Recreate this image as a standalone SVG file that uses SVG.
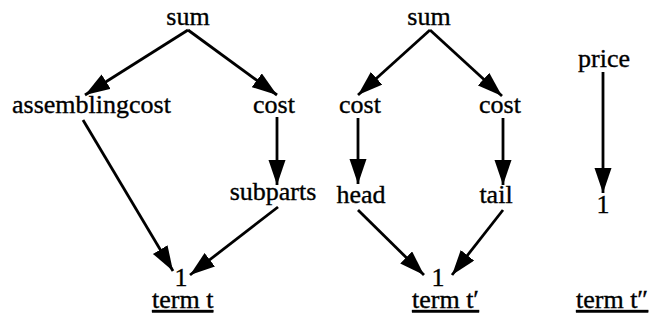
<svg xmlns="http://www.w3.org/2000/svg" width="656" height="320" viewBox="0 0 656 320">
<style>
text{font-family:"Liberation Serif","Times New Roman",serif;font-size:26px;fill:#000;stroke:#000;stroke-width:0.35}
.c{text-anchor:middle}
.u{text-decoration:underline}
.e line{stroke:#000;stroke-width:2.8;marker-end:url(#ah)}
</style>
<defs>
<marker id="ah" markerUnits="userSpaceOnUse" markerWidth="28" markerHeight="18" refX="25" refY="8.5" orient="auto">
<path d="M0,0 L25,8.5 L0,17 z" fill="#000"/>
</marker>
</defs>
<rect width="656" height="320" fill="#fff"/>
<g class="e" id="connectors">
<line x1="188" y1="30" x2="85" y2="95"/>
<line x1="188" y1="30" x2="277" y2="95"/>
<line x1="277" y1="117" x2="277" y2="185"/>
<line x1="83" y1="120" x2="173" y2="271"/>
<line x1="278" y1="207" x2="190" y2="275"/>
<line x1="430" y1="30" x2="358" y2="95"/>
<line x1="430" y1="30" x2="502" y2="96"/>
<line x1="358" y1="118" x2="358" y2="184"/>
<line x1="503" y1="118" x2="503" y2="185"/>
<line x1="358" y1="210" x2="424" y2="275"/>
<line x1="503" y1="210" x2="452" y2="275"/>
<line x1="603" y1="72" x2="603" y2="193"/>
</g>
<g id="t1-sum"><text class="c" x="188" y="25">sum</text></g>
<g id="t1-assemblingcost"><text x="12" y="113">assemblingcost</text></g>
<g id="t1-cost"><text class="c" x="274" y="113">cost</text></g>
<g id="t1-subparts"><text class="c" x="273" y="200">subparts</text></g>
<g id="t1-one"><text class="c" x="181" y="286">1</text></g>
<g id="t1-label"><text class="u" x="152" y="308">term t</text></g>
<g id="t2-sum"><text class="c" x="429" y="25">sum</text></g>
<g id="t2-cost1"><text class="c" x="360" y="113">cost</text></g>
<g id="t2-cost2"><text class="c" x="500" y="113">cost</text></g>
<g id="t2-head"><text class="c" x="361" y="203">head</text></g>
<g id="t2-tail"><text class="c" x="496" y="203">tail</text></g>
<g id="t2-one"><text class="c" x="438" y="286">1</text></g>
<g id="t2-label"><text class="u" x="412" y="308">term t′</text></g>
<g id="t3-price"><text class="c" x="604" y="67">price</text></g>
<g id="t3-one"><text class="c" x="603" y="213">1</text></g>
<g id="t3-label"><text class="u" x="576" y="308">term t″</text></g>
</svg>
